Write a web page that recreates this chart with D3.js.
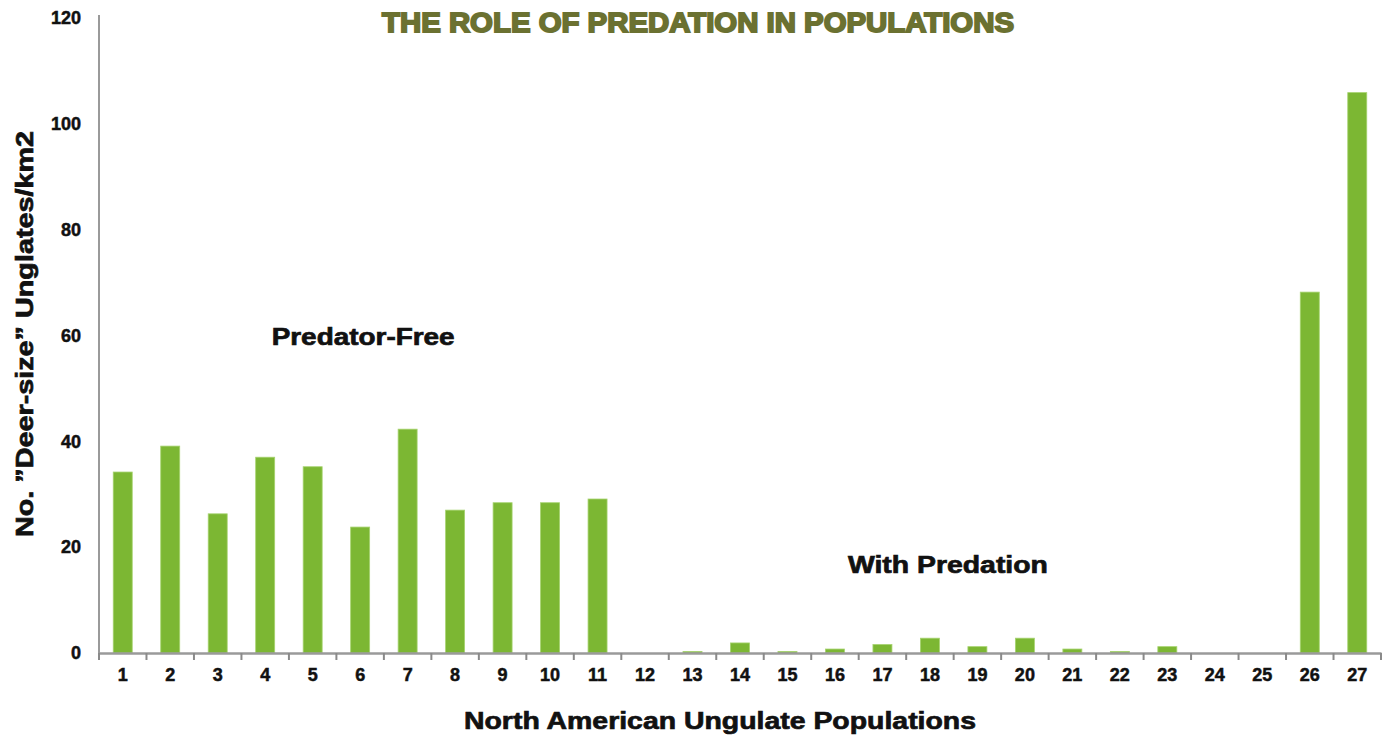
<!DOCTYPE html>
<html><head><meta charset="utf-8">
<script src="https://cdn.jsdelivr.net/npm/d3@7"></script>
<style>body{margin:0;background:#fff}svg{display:block}</style>
</head><body>
<svg id="chart" width="1392" height="735"></svg>
<script>
const categories = ["1","2","3","4","5","6","7","8","9","10","11","12","13","14","15","16","17","18","19","20","21","22","23","24","25","26","27"];
const values = [34.2,39.1,26.3,37.0,35.2,23.8,42.3,27.0,28.4,28.4,29.1,0,0.3,1.9,0.3,0.75,1.6,2.8,1.2,2.8,0.75,0.3,1.2,0,0,68.2,105.9];
const yTicks = [0,20,40,60,80,100,120];
const title = "THE ROLE OF PREDATION IN POPULATIONS";
const xTitle = "North American Ungulate Populations";
const yTitle = "No.  \u201dDeer-size\u201d  Unglates/km2";
const annotations = [{text:"Predator-Free", cat:"6", dx:3, v:58.2, len:183},{text:"With Predation", cat:"18", dx:18, v:15.1, len:200}];

const svg = d3.select("#chart");
const x = d3.scaleBand().domain(categories).range([99, 1381]).paddingInner(0.6).paddingOuter(0.3);
const xb = d3.scaleBand().domain(categories).range([99, 1381]);
const y = d3.scaleLinear().domain([0,120]).range([653, 18]);
const font = "'Liberation Sans', Arial, sans-serif";

svg.append("g").selectAll("rect").data(values).join("rect")
  .attr("x",(d,i)=>x(categories[i])).attr("width",x.bandwidth())
  .attr("y",d=>y(d)).attr("height",d=>y(0)-y(d))
  .attr("fill","#7cb733").attr("stroke","#a6d36f").attr("stroke-width",0.8);

// y axis
const ya = svg.append("g").attr("transform","translate(99,0)")
  .call(d3.axisLeft(y).tickValues(yTicks).tickSize(0).tickPadding(18));
ya.select(".domain").attr("stroke","#9a9a9a").attr("stroke-width",2).attr("d","M0,15V654");
ya.selectAll("text").attr("font-family",font).attr("font-weight","bold").attr("font-size",18)
  .attr("fill","#111").attr("stroke","#111").attr("stroke-width",0.5);

// x axis
const xa = svg.append("g").attr("transform","translate(0,653)")
  .call(d3.axisBottom(xb).tickSize(0).tickPadding(15));
xa.select(".domain").attr("stroke","#9a9a9a").attr("stroke-width",2.5);
xa.selectAll("text").attr("font-family",font).attr("font-weight","bold").attr("font-size",18)
  .attr("fill","#111").attr("stroke","#111").attr("stroke-width",0.5);
const bounds = categories.map(c=>xb(c)).concat([xb(categories[categories.length-1])+xb.bandwidth()]);
xa.append("g").selectAll("line").data(bounds).join("line")
  .attr("x1",d=>d).attr("x2",d=>d).attr("y1",0).attr("y2",7)
  .attr("stroke","#8a8a8a").attr("stroke-width",2);

// title
svg.append("text").attr("x",698).attr("y",32).attr("text-anchor","middle")
  .attr("font-family",font).attr("font-weight","bold").attr("font-size",27)
  .attr("fill","#6b7131").attr("stroke","#6b7131").attr("stroke-width",1.8)
  .attr("textLength",632).attr("lengthAdjust","spacingAndGlyphs").text(title);

// axis titles
svg.append("text").attr("x",720).attr("y",729).attr("text-anchor","middle")
  .attr("font-family",font).attr("font-weight","bold").attr("font-size",24).attr("fill","#111")
  .attr("stroke","#111").attr("stroke-width",0.7)
  .attr("textLength",512).attr("lengthAdjust","spacingAndGlyphs").text(xTitle);
svg.append("text").attr("transform","translate(33,334) rotate(-90)").attr("text-anchor","middle")
  .attr("font-family",font).attr("font-weight","bold").attr("font-size",24).attr("fill","#111")
  .attr("stroke","#111").attr("stroke-width",0.7)
  .attr("textLength",406).attr("lengthAdjust","spacingAndGlyphs").text(yTitle);

// annotations
svg.append("g").selectAll("text").data(annotations).join("text")
  .attr("x",d=>xb(d.cat)+xb.bandwidth()/2+d.dx).attr("y",d=>y(d.v))
  .attr("text-anchor","middle").attr("font-family",font).attr("font-weight","bold").attr("font-size",24).attr("fill","#111")
  .attr("stroke","#111").attr("stroke-width",0.7)
  .attr("textLength",d=>d.len).attr("lengthAdjust","spacingAndGlyphs")
  .text(d=>d.text);
</script>
</body></html>
